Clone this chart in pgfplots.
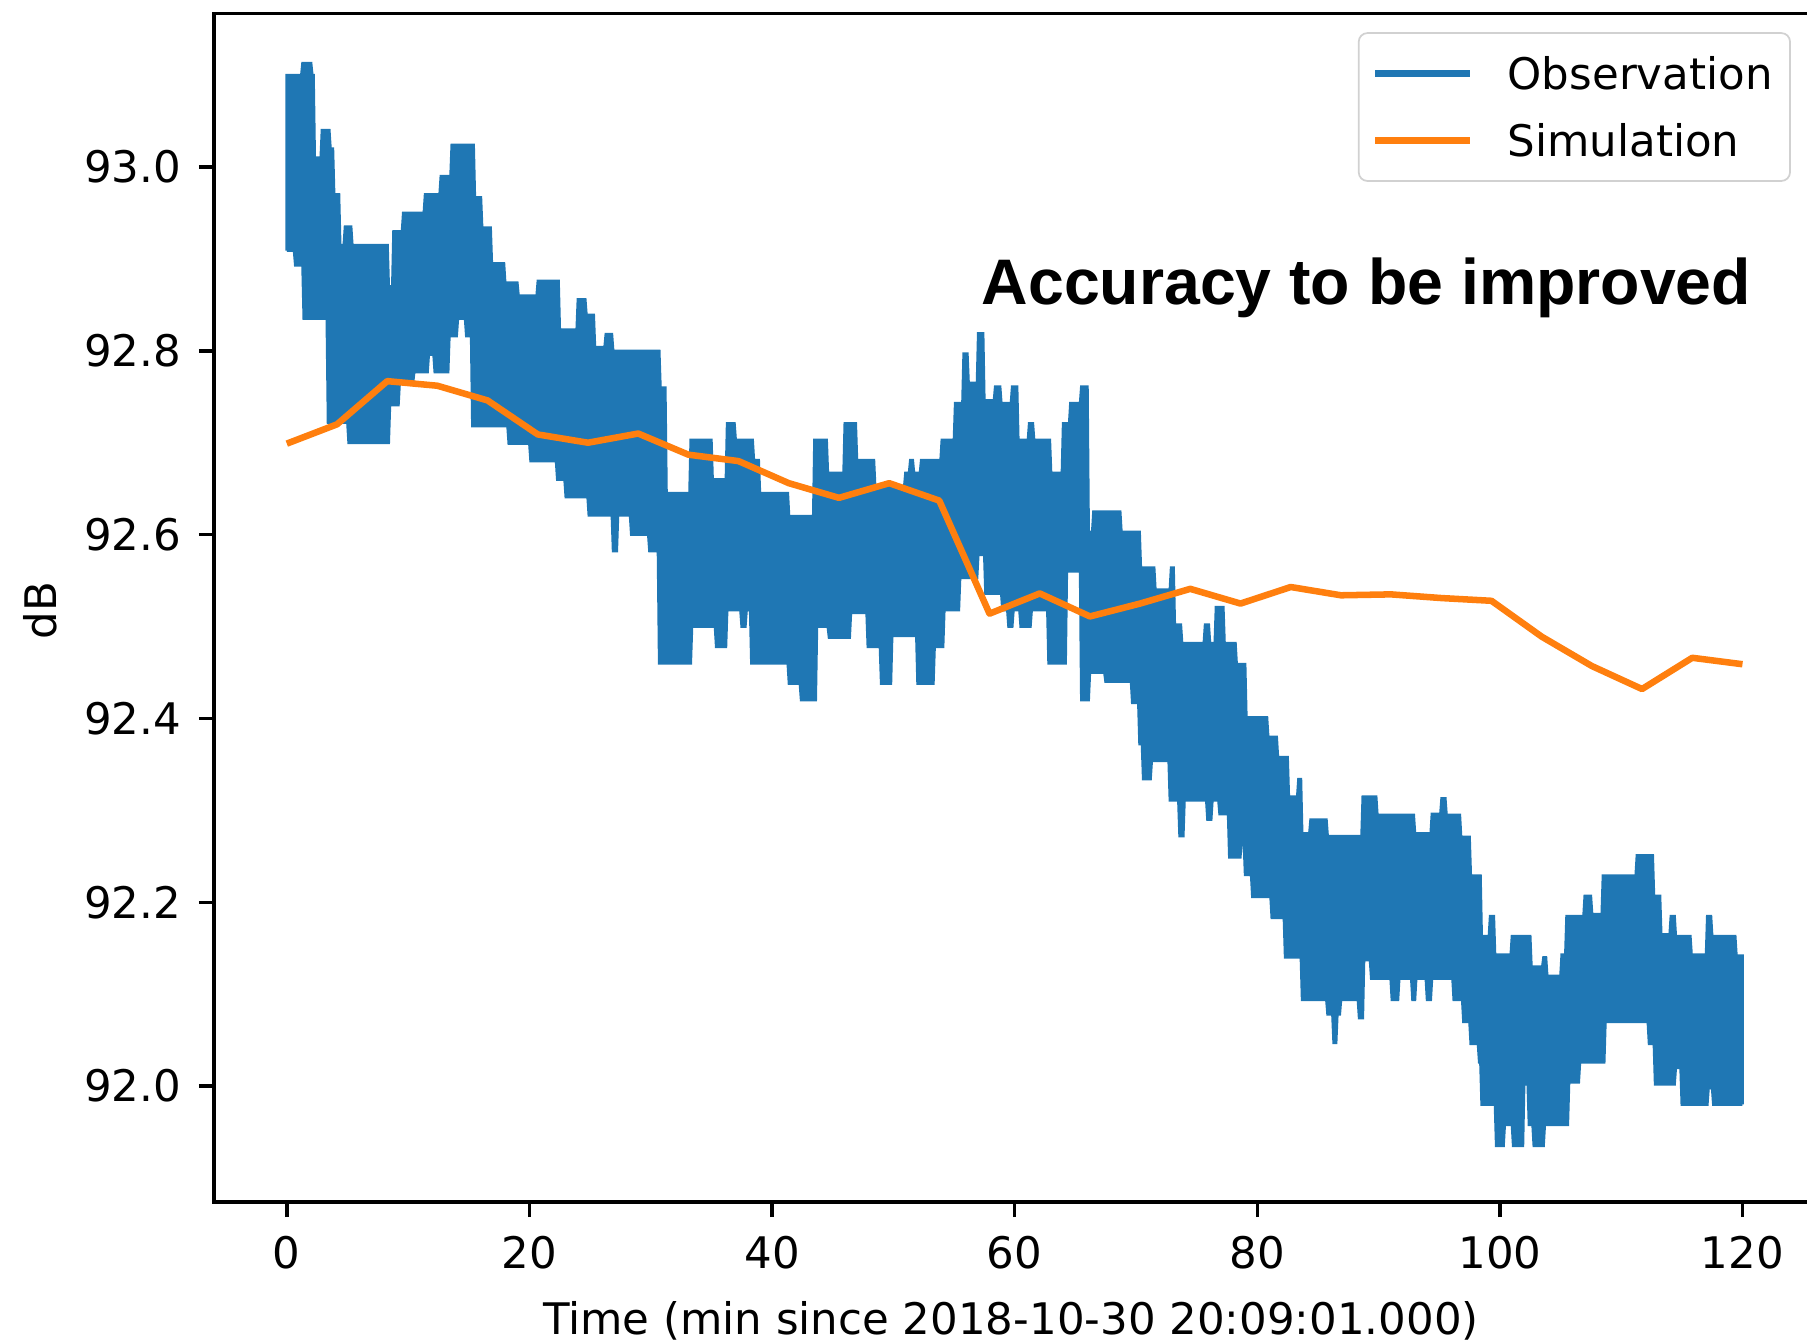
\documentclass[border=0pt]{standalone}
\usepackage{fontspec}
\setmainfont{DejaVu Sans}
\newfontfamily\annotfont{Liberation Sans}
\usepackage{pgfplots}
\usepackage{pgfplotstable}
\pgfplotsset{compat=1.18}
\usepgfplotslibrary{fillbetween}
\definecolor{obsblue}{RGB}{31,119,180}
\definecolor{simorange}{RGB}{255,127,14}

% upper envelope of the observation band
\pgfplotstableread{
t v
0.0 92.909
0.0 93.10
1.2 93.10
1.3 93.113
2.0 93.113
2.1 93.10
2.2 93.10
2.3 93.01
2.8 93.01
2.9 93.04
3.5 93.04
3.6 93.02
3.8 93.02
3.9 92.97
4.3 92.97
4.4 92.915
4.7 92.915
4.8 92.935
5.3 92.935
5.4 92.915
8.3 92.915
8.4 92.87
8.7 92.87
8.8 92.93
9.5 92.93
9.6 92.95
11.3 92.95
11.4 92.97
12.6 92.97
12.7 92.99
13.5 92.99
13.6 93.024
15.4 93.024
15.5 92.967
16.0 92.967
16.1 92.934
16.8 92.934
16.9 92.895
17.9 92.895
18.0 92.874
19.0 92.874
19.1 92.860
20.6 92.860
20.7 92.876
22.4 92.876
22.5 92.823
23.9 92.823
24.0 92.856
24.6 92.856
24.7 92.839
25.3 92.839
25.4 92.804
26.2 92.804
26.3 92.818
26.8 92.818
26.9 92.80
30.7 92.80
30.8 92.76
31.2 92.76
31.3 92.645
33.2 92.645
33.3 92.703
35.0 92.703
35.1 92.66
36.2 92.66
36.3 92.721
36.9 92.721
37.0 92.703
38.4 92.703
38.5 92.681
38.9 92.681
39.0 92.645
41.3 92.645
41.4 92.62
43.4 92.62
43.5 92.703
44.5 92.703
44.6 92.667
45.9 92.667
46.0 92.721
46.9 92.721
47.0 92.681
48.4 92.681
48.5 92.652
50.9 92.652
51.0 92.667
51.3 92.667
51.4 92.681
51.6 92.681
51.7 92.667
52.2 92.667
52.3 92.681
53.9 92.681
54.0 92.703
55.0 92.703
55.1 92.743
55.7 92.743
55.8 92.797
56.1 92.797
56.2 92.765
56.9 92.765
57.0 92.819
57.4 92.819
57.5 92.746
58.3 92.746
58.4 92.761
58.8 92.761
58.9 92.743
59.7 92.743
59.8 92.761
60.2 92.761
60.3 92.703
61.1 92.703
61.2 92.721
61.5 92.721
61.6 92.703
62.9 92.703
63.0 92.667
63.9 92.667
64.0 92.721
64.5 92.721
64.6 92.743
65.4 92.743
65.5 92.761
66.0 92.761
66.1 92.603
66.4 92.603
66.5 92.625
68.7 92.625
68.8 92.603
70.3 92.603
70.4 92.564
71.5 92.564
71.6 92.54
72.8 92.54
72.9 92.564
73.1 92.564
73.2 92.502
73.7 92.502
73.8 92.482
75.6 92.482
75.7 92.502
76.0 92.502
76.1 92.482
76.5 92.482
76.6 92.521
77.2 92.521
77.3 92.482
78.2 92.482
78.3 92.459
79.0 92.459
79.1 92.401
80.8 92.401
80.9 92.38
81.6 92.38
81.7 92.358
82.5 92.358
82.6 92.315
83.3 92.315
83.4 92.334
83.6 92.334
83.7 92.275
84.3 92.275
84.4 92.29
85.7 92.29
85.8 92.272
88.6 92.272
88.7 92.315
89.8 92.315
89.9 92.295
92.9 92.295
93.0 92.275
94.3 92.275
94.4 92.296
95.1 92.296
95.2 92.313
95.5 92.313
95.6 92.295
96.7 92.295
96.8 92.271
97.5 92.271
97.6 92.229
98.4 92.229
98.5 92.163
99.1 92.163
99.2 92.185
99.5 92.185
99.6 92.143
100.9 92.143
101.0 92.163
102.5 92.163
102.6 92.13
103.5 92.13
103.6 92.14
103.8 92.14
103.9 92.12
105.0 92.12
105.1 92.143
105.4 92.143
105.5 92.185
106.9 92.185
107.0 92.207
107.5 92.207
107.6 92.187
108.4 92.187
108.5 92.229
111.2 92.229
111.3 92.251
112.6 92.251
112.7 92.207
113.2 92.207
113.3 92.165
114.0 92.165
114.1 92.185
114.4 92.185
114.5 92.163
115.7 92.163
115.8 92.143
117.0 92.143
117.1 92.185
117.4 92.185
117.5 92.163
119.4 92.163
119.5 92.142
120.0 92.142
120.0 91.98
}\upperenv

% lower envelope of the observation band
\pgfplotstableread{
t v
0.0 92.909
0.6 92.909
0.7 92.893
1.3 92.893
1.4 92.835
3.3 92.835
3.4 92.722
5.0 92.722
5.1 92.70
8.4 92.70
8.5 92.741
9.2 92.741
9.3 92.765
10.4 92.765
10.5 92.777
11.6 92.777
11.7 92.796
12.1 92.796
12.2 92.777
13.3 92.777
13.4 92.816
14.0 92.816
14.1 92.835
14.7 92.835
14.8 92.816
15.2 92.816
15.3 92.718
18.2 92.718
18.3 92.699
20.0 92.699
20.1 92.680
22.2 92.680
22.3 92.660
22.9 92.660
23.0 92.641
24.8 92.641
24.9 92.621
26.8 92.621
26.9 92.582
27.2 92.582
27.3 92.621
28.3 92.621
28.4 92.600
29.8 92.600
29.9 92.582
30.6 92.582
30.7 92.46
33.3 92.46
33.4 92.50
35.3 92.50
35.4 92.478
36.2 92.478
36.3 92.518
37.4 92.518
37.5 92.50
37.8 92.50
37.9 92.518
38.2 92.518
38.3 92.46
41.3 92.46
41.4 92.438
42.3 92.438
42.4 92.42
43.6 92.42
43.7 92.50
44.6 92.50
44.7 92.488
46.4 92.488
46.5 92.515
47.8 92.515
47.9 92.478
48.9 92.478
49.0 92.438
49.8 92.438
49.9 92.49
51.9 92.49
52.0 92.438
53.3 92.438
53.4 92.478
54.1 92.478
54.2 92.518
55.4 92.518
55.5 92.553
56.9 92.553
57.0 92.578
57.5 92.578
57.6 92.536
58.9 92.536
59.0 92.518
59.4 92.518
59.5 92.50
59.8 92.50
59.9 92.518
60.4 92.518
60.5 92.50
61.3 92.50
61.4 92.518
62.7 92.518
62.8 92.46
64.2 92.46
64.3 92.56
65.4 92.56
65.5 92.42
66.1 92.42
66.2 92.45
67.4 92.45
67.5 92.44
69.6 92.44
69.7 92.417
70.2 92.417
70.3 92.372
70.5 92.372
70.6 92.334
71.2 92.334
71.3 92.354
72.7 92.354
72.8 92.311
73.5 92.311
73.6 92.272
73.9 92.272
74.0 92.311
75.8 92.311
75.9 92.29
76.2 92.29
76.3 92.311
76.8 92.311
76.9 92.296
77.6 92.296
77.7 92.249
78.6 92.249
78.7 92.265
78.9 92.265
79.0 92.23
79.5 92.23
79.6 92.206
81.1 92.206
81.2 92.183
82.2 92.183
82.3 92.14
83.6 92.14
83.7 92.094
85.7 92.094
85.8 92.078
86.2 92.078
86.3 92.047
86.5 92.047
86.6 92.078
86.8 92.078
86.9 92.094
88.3 92.094
88.4 92.074
88.7 92.074
88.8 92.137
89.3 92.137
89.4 92.117
91.0 92.117
91.1 92.094
91.6 92.094
91.7 92.117
92.7 92.117
92.8 92.094
93.0 92.094
93.1 92.117
93.9 92.117
94.0 92.094
94.3 92.094
94.4 92.117
96.1 92.117
96.2 92.094
96.9 92.094
97.0 92.07
97.5 92.07
97.6 92.046
98.2 92.046
98.3 92.026
98.4 92.026
98.5 91.98
99.6 91.98
99.7 91.935
100.3 91.935
100.4 91.958
101.0 91.958
101.1 91.935
101.9 91.935
102.0 92.002
102.3 92.002
102.4 91.958
102.7 91.958
102.8 91.935
103.6 91.935
103.7 91.958
105.6 91.958
105.7 92.004
106.5 92.004
106.6 92.026
108.6 92.026
108.7 92.07
112.2 92.07
112.3 92.046
112.7 92.046
112.8 92.002
114.4 92.002
114.5 92.02
114.9 92.02
115.0 91.98
117.1 91.98
117.2 91.998
117.5 91.998
117.6 91.98
120.0 91.98
}\lowerenv

% simulation
\pgfplotstableread{
t v
0.00 92.699
4.14 92.720
8.28 92.767
12.41 92.762
16.55 92.746
20.69 92.709
24.83 92.700
28.97 92.710
33.10 92.687
37.24 92.680
41.38 92.656
45.52 92.640
49.66 92.656
53.79 92.637
57.93 92.514
62.07 92.536
66.21 92.511
70.34 92.525
74.48 92.541
78.62 92.525
82.76 92.543
86.90 92.534
91.03 92.535
95.17 92.531
99.31 92.528
103.45 92.489
107.59 92.457
111.72 92.432
115.86 92.466
120.00 92.459
}\simtab

\begin{document}
\begin{tikzpicture}
\begin{axis}[
  scale only axis,
  width=368.1pt, height=273.2pt,
  xmin=-6, xmax=126, ymin=91.874, ymax=93.167,
  xtick={0,20,40,60,80,100,120},
  ytick={92,92.2,92.4,92.6,92.8,93},
  /pgf/number format/assume math mode=true,
  yticklabel style={/pgf/number format/fixed,/pgf/number format/fixed zerofill,/pgf/number format/precision=1,
    anchor=east, inner sep=0pt, xshift=-3.9pt},
  xticklabel style={anchor=base, inner sep=0pt, yshift=-11.85pt},
  tick align=outside, tick pos=left,
  major tick length=3.5pt,
  every tick/.style={black, line width=0.8pt},
  axis line style={line width=0.8pt},
  xlabel={Time (min since 2018-10-30 20:09:01.000)},
  ylabel={dB},
  every axis x label/.style={at={(axis description cs:0.4977,0)}, anchor=base, yshift=-30.4pt},
  every axis y label/.style={at={(axis description cs:-0.1088,0.4975)}, rotate=90, anchor=center},
  legend cell align=left,
  legend style={at={(1,1)}, anchor=north east, xshift=-5.6pt, yshift=-4.3pt,
    draw=black!18, rounded corners=2pt, fill=white, inner xsep=3pt, inner ysep=2.3pt,
    row sep=1.4pt, nodes={inner sep=1pt, text height=9.6pt, text depth=2.4pt}},
]
\addplot[obsblue, line width=0.6pt, name path=U,
  legend image code/.code={\draw[obsblue, line width=1.5pt] (0pt,0pt) -- (21.8pt,0pt); \path[draw=none, fill=none] (0pt,0pt) -- (29.5pt,0pt);}]
  table[x=t, y=v] {\upperenv};
\addlegendentry{Observation}
\addplot[obsblue, line width=0.6pt, name path=L, forget plot] table[x=t, y=v] {\lowerenv};
\addplot[obsblue, forget plot] fill between[of=U and L];
\addplot[simorange, line width=1.5pt, line join=round,
  legend image code/.code={\draw[simorange, line width=1.5pt] (0pt,0pt) -- (21.8pt,0pt); \path[draw=none, fill=none] (0pt,0pt) -- (29.5pt,0pt);}]
  table[x=t, y=v] {\simtab};
\addlegendentry{Simulation}
\node[anchor=base, inner sep=0pt, font=\annotfont\bfseries\fontsize{14.8}{17}\selectfont]
  at (axis cs:89.0,92.850) {Accuracy to be improved};
\end{axis}
\pgfresetboundingbox
\path[use as bounding box] (-49.2pt,-32.25pt) rectangle (366.2pt,276.3pt);
\end{tikzpicture}
\end{document}
